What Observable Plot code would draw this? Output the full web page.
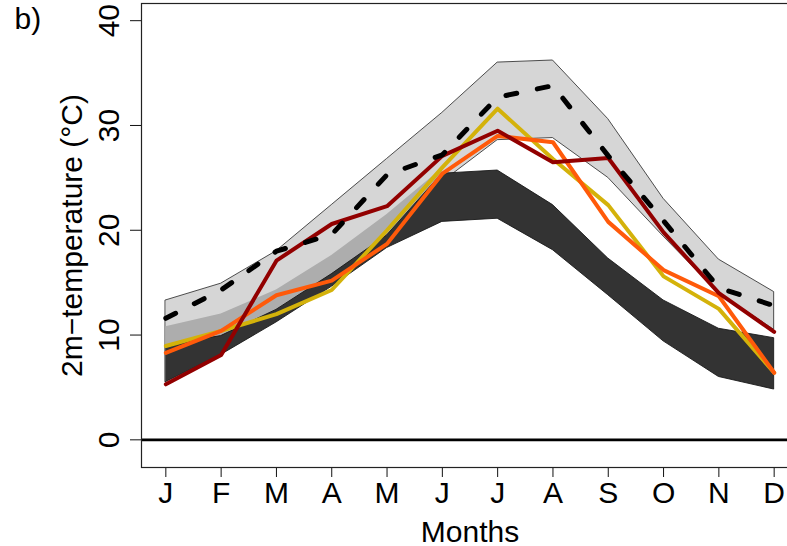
<!DOCTYPE html>
<html>
<head>
<meta charset="utf-8">
<script src="https://cdn.jsdelivr.net/npm/d3@7"></script>
<script src="https://cdn.jsdelivr.net/npm/@observablehq/plot@0.6"></script>
<style>
  html, body { margin: 0; padding: 0; background: white; }
  #chart { width: 787px; height: 546px; overflow: hidden; }
</style>
</head>
<body>
<div id="chart"></div>
<script>
// ---- data ----
const months = [1, 2, 3, 4, 5, 6, 7, 8, 9, 10, 11, 12];
const monthLabels = ["J", "F", "M", "A", "M", "J", "J", "A", "S", "O", "N", "D"];
const yTicks = [0, 10, 20, 30, 40];

// light grey envelope
const lightHi = [13.3, 14.9, 18.0, 22.4, 26.8, 31.2, 36.0, 36.2, 30.6, 23.0, 17.2, 14.1];
const lightLo = [9.0, 9.9, 12.4, 15.8, 19.5, 24.6, 28.6, 28.8, 25.0, 19.4, 14.0, 10.5];
// medium grey (overlap) envelope, Jan-Jun
const midHi = [10.8, 12.0, 14.3, 17.6, 21.5, 25.9];
// dark envelope
const darkHi = [9.0, 9.9, 12.4, 15.8, 19.5, 25.4, 25.7, 22.4, 17.3, 13.3, 10.6, 9.7];
const darkLo = [5.5, 8.1, 11.2, 14.6, 18.3, 20.8, 21.1, 18.1, 13.8, 9.4, 6.0, 4.8];

// lines
const dashedMean = [11.6, 14.3, 18.0, 19.6, 25.3, 27.2, 32.7, 33.8, 27.1, 20.9, 14.5, 12.8];
const yellowLine = [8.95, 10.4, 12.0, 14.3, 20.0, 26.0, 31.6, 26.8, 22.4, 15.6, 12.5, 6.4];
const orangeLine = [8.3, 10.4, 13.8, 15.2, 18.7, 25.4, 29.0, 28.4, 20.8, 16.2, 13.7, 6.4];
const darkRedLine = [5.3, 8.1, 17.1, 20.6, 22.3, 27.1, 29.5, 26.5, 26.9, 19.8, 14.0, 10.3];

// ---- tables built from the arrays ----
const bandLight = months.map((m, i) => ({m, lo: lightLo[i], hi: lightHi[i]}));
const bandMid = midHi.map((v, i) => ({m: months[i], lo: darkHi[i], hi: v}));
const bandDark = months.map((m, i) => ({m, lo: darkLo[i], hi: darkHi[i]}));
const series = (arr) => months.map((m, i) => ({m, v: arr[i]}));

const font = "'Liberation Sans', Arial, Helvetica, sans-serif";

const chart = Plot.plot({
  width: 787,
  height: 546,
  marginLeft: 141,
  marginRight: -11,
  marginTop: 3,
  marginBottom: 79,
  style: {fontFamily: font, fontSize: "30px", background: "white", color: "#111", overflow: "hidden"},
  x: {domain: [0.56, 12.44], ticks: months, tickSize: 10, tickFormat: () => "", label: null},
  y: {domain: [-2.64, 41.64], ticks: yTicks, tickSize: 11, tickFormat: () => "", label: null},
  marks: [
    Plot.areaY(bandLight, {x: "m", y1: "lo", y2: "hi", fill: "#d6d6d6", stroke: "#3a3a3a", strokeWidth: 0.9}),
    Plot.areaY(bandMid, {x: "m", y1: "lo", y2: "hi", fill: "#adadad"}),
    Plot.areaY(bandDark, {x: "m", y1: "lo", y2: "hi", fill: "#333333", stroke: "#1a1a1a", strokeWidth: 0.9}),
    Plot.ruleY([0], {stroke: "black", strokeWidth: 2.6}),
    Plot.line(series(yellowLine), {x: "m", y: "v", stroke: "#d4b20a", strokeWidth: 4, strokeLinejoin: "round", strokeLinecap: "round"}),
    Plot.line(series(orangeLine), {x: "m", y: "v", stroke: "#ff5a0a", strokeWidth: 4, strokeLinejoin: "round", strokeLinecap: "round"}),
    Plot.line(series(darkRedLine), {x: "m", y: "v", stroke: "#920000", strokeWidth: 4, strokeLinejoin: "round", strokeLinecap: "round"}),
    Plot.line(series(dashedMean), {x: "m", y: "v", stroke: "black", strokeWidth: 5, strokeDasharray: "11,21", strokeLinecap: "round", strokeLinejoin: "round"}),
    Plot.frame({stroke: "#222", strokeWidth: 1.2}),
    // x tick labels
    Plot.text(months, {x: d => d, text: d => monthLabels[d - 1], frameAnchor: "bottom", dy: 35.5, lineAnchor: "bottom", fill: "black"}),
    // y tick labels (rotated like R)
    Plot.text(yTicks, {y: d => d, text: d => String(d), frameAnchor: "left", dx: -22.5, rotate: -90, textAnchor: "middle", lineAnchor: "bottom", fill: "black"}),
    // axis titles
    Plot.text(["Months"], {frameAnchor: "bottom", dy: 74, lineAnchor: "bottom", fill: "black"}),
    Plot.text(["2m\u2212temperature (\u00B0C)"], {frameAnchor: "left", dx: -59.5, rotate: -90, textAnchor: "middle", lineAnchor: "bottom", fill: "black"}),
    Plot.text(["b)"], {frameAnchor: "top-left", dx: -127, dy: 25, textAnchor: "start", lineAnchor: "bottom", fill: "black"})
  ]
});
document.getElementById("chart").appendChild(chart);
</script>
</body>
</html>
